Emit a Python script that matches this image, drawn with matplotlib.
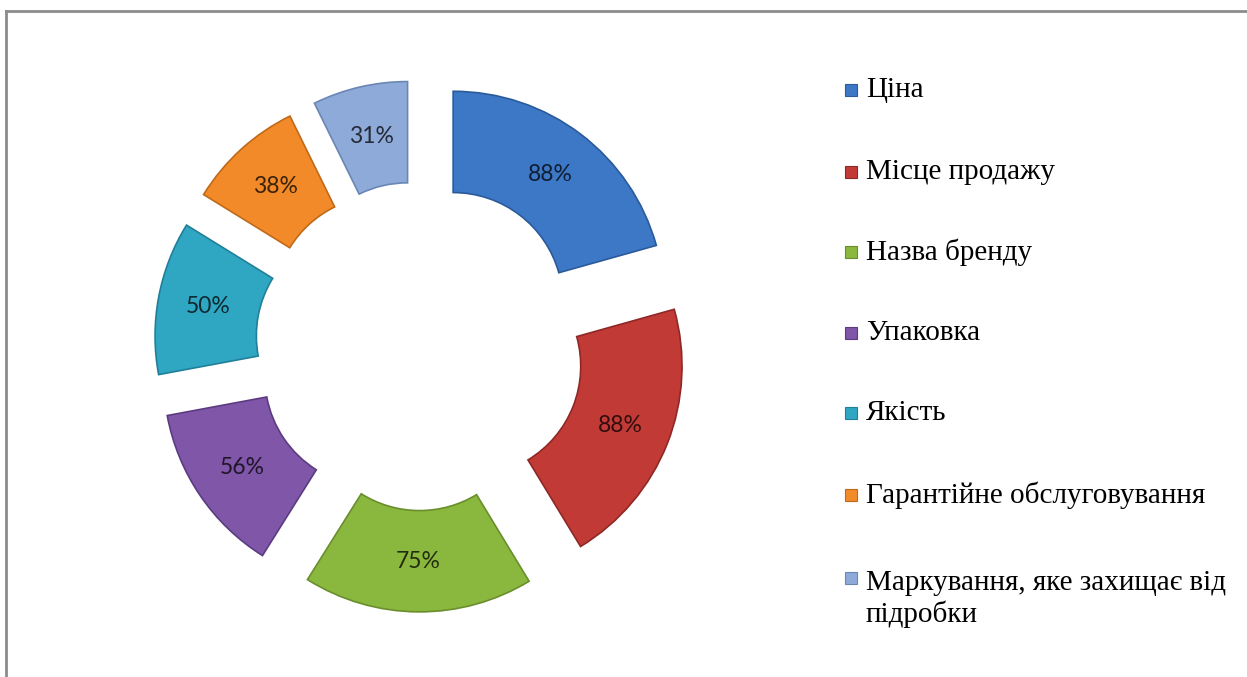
import matplotlib.pyplot as plt
from matplotlib.patches import Rectangle
from matplotlib.lines import Line2D

labels = ['Ціна', 'Місце продажу', 'Назва бренду', 'Упаковка', 'Якість',
          'Гарантійне обслуговування', 'Маркування, яке захищає від\nпідробки']
values = [88, 88, 75, 56, 50, 38, 31]
colors = ['#3d78c7', '#c23a36', '#8ab83e', '#7f56a8', '#2fa6c2', '#f28a2a', '#8eaad8']
edges = ['#2a5a9a', '#8e2826', '#6a8e2c', '#5c3c80', '#20809a', '#c06a18', '#6a86b4']

W, H = 1247, 677
fig = plt.figure(figsize=(W / 100, H / 100), dpi=100)

# chart frame (only top/left visible)
fig.add_artist(Line2D([6 / W, 6 / W], [0, 1 - 11 / H], color='#8c8c8c', lw=2))
fig.add_artist(Line2D([6 / W, 1], [1 - 11 / H, 1 - 11 / H], color='#8c8c8c', lw=2))

# doughnut: centre (420, 345) px, outer radius 210 px
cx, cy, R = 420, 346, 211
lim = 1.4
half = lim * R
ax = fig.add_axes([(cx - half) / W, (H - cy - half) / H, 2 * half / W, 2 * half / H])
total = sum(values)
wedges, texts, autotexts = ax.pie(
    values, colors=colors, startangle=90, counterclock=False,
    explode=[0.26] * len(values), radius=1,
    wedgeprops=dict(width=0.48, linewidth=1.2),
    autopct=lambda p: '%.0f%%' % (p * total / 100), pctdistance=0.76,
    textprops=dict(fontsize=16.5, family='Lato', color='black', alpha=0.75))
for w, e in zip(wedges, edges):
    w.set_edgecolor(e)
ax.set_xlim(-lim, lim)
ax.set_ylim(-lim, lim)
ax.set_aspect('equal')
ax.axis('off')

# legend, drawn by hand to match the spacing
ys = [90, 172, 252, 333, 413, 495, 578]
for lab, c, e, y in zip(labels, colors, edges, ys):
    fig.add_artist(Rectangle((845 / W, 1 - (y + 6) / H), 12 / W, 12 / H,
                             transform=fig.transFigure, facecolor=c,
                             edgecolor=e, lw=0.8))
    nlines = lab.count('\n') + 1
    yc = y + (nlines - 1) * 21
    fig.text(866 / W, 1 - yc / H, lab, family='Liberation Serif', fontsize=21,
             va='center', ha='left', linespacing=1.2)

fig.savefig('out.png', dpi=100)
